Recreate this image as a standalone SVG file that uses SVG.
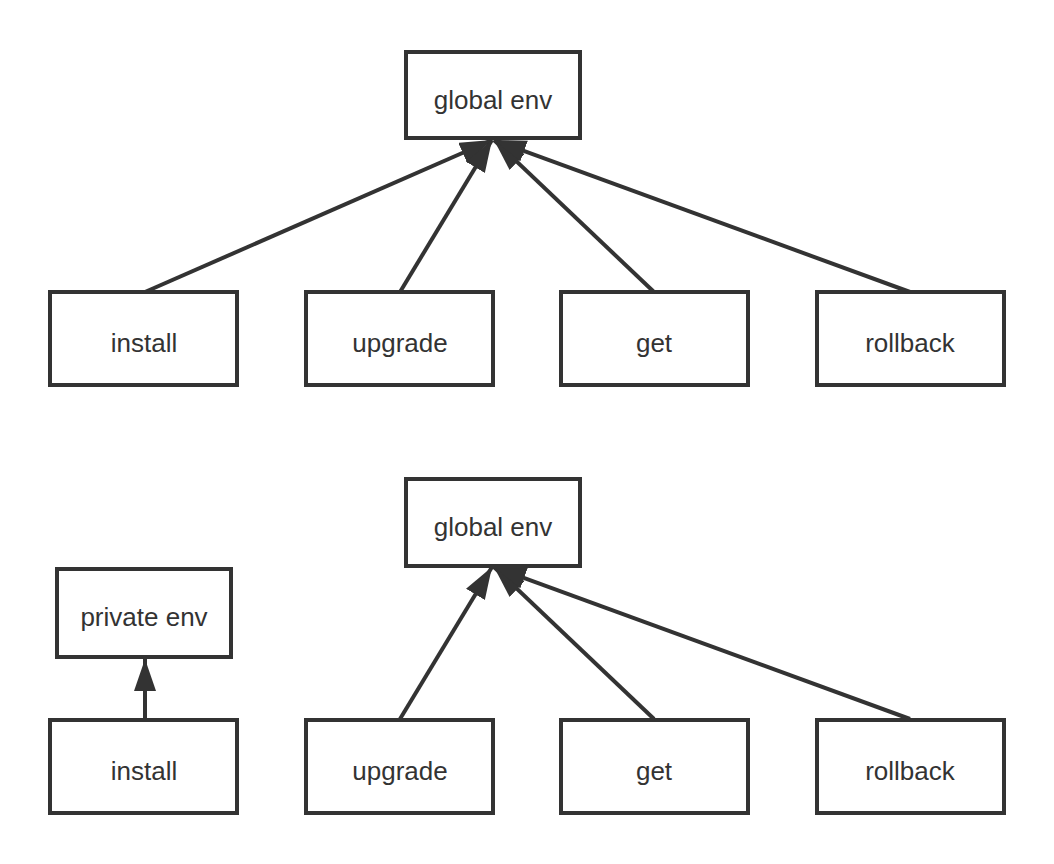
<svg xmlns="http://www.w3.org/2000/svg" width="1054" height="864" viewBox="0 0 1054 864">
<style>
.box{fill:#fff;stroke:#333;stroke-width:4}
.lbl{font-family:"Liberation Sans",Arial,sans-serif;font-size:26px;fill:#333;text-anchor:middle;dominant-baseline:central}
.edge{stroke:#333;stroke-width:4;fill:none;marker-end:url(#arr)}
</style>
<defs>
<marker id="arr" markerUnits="userSpaceOnUse" markerWidth="34" markerHeight="24" refX="32" refY="11" orient="auto">
<path d="M0,0 L32,11 L0,22 Z" fill="#333"/>
</marker>
</defs>
<rect width="1054" height="864" fill="#fff"/>
<g id="edges">
<line class="edge" x1="145" y1="292" x2="492" y2="140"/>
<line class="edge" x1="400" y1="292" x2="492" y2="140"/>
<line class="edge" x1="654" y1="292" x2="494" y2="140"/>
<line class="edge" x1="910" y1="292" x2="494" y2="140"/>
<line class="edge" x1="145" y1="719" x2="145" y2="659"/>
<line class="edge" x1="400" y1="719" x2="492" y2="567"/>
<line class="edge" x1="654" y1="719" x2="494" y2="567"/>
<line class="edge" x1="910" y1="719" x2="494" y2="567"/>
</g>
<g id="global1"><rect class="box" x="406" y="52" width="174" height="86"/><text class="lbl" x="493" y="100">global env</text></g>
<g id="install1"><rect class="box" x="50" y="292" width="187" height="93"/><text class="lbl" x="144" y="343">install</text></g>
<g id="upgrade1"><rect class="box" x="306" y="292" width="187" height="93"/><text class="lbl" x="400" y="343">upgrade</text></g>
<g id="get1"><rect class="box" x="561" y="292" width="187" height="93"/><text class="lbl" x="654" y="343">get</text></g>
<g id="rollback1"><rect class="box" x="817" y="292" width="187" height="93"/><text class="lbl" x="910" y="343">rollback</text></g>
<g id="global2"><rect class="box" x="406" y="479" width="174" height="87"/><text class="lbl" x="493" y="527">global env</text></g>
<g id="private"><rect class="box" x="57" y="569" width="174" height="88"/><text class="lbl" x="144" y="617">private env</text></g>
<g id="install2"><rect class="box" x="50" y="720" width="187" height="93"/><text class="lbl" x="144" y="771">install</text></g>
<g id="upgrade2"><rect class="box" x="306" y="720" width="187" height="93"/><text class="lbl" x="400" y="771">upgrade</text></g>
<g id="get2"><rect class="box" x="561" y="720" width="187" height="93"/><text class="lbl" x="654" y="771">get</text></g>
<g id="rollback2"><rect class="box" x="817" y="720" width="187" height="93"/><text class="lbl" x="910" y="771">rollback</text></g>
</svg>
